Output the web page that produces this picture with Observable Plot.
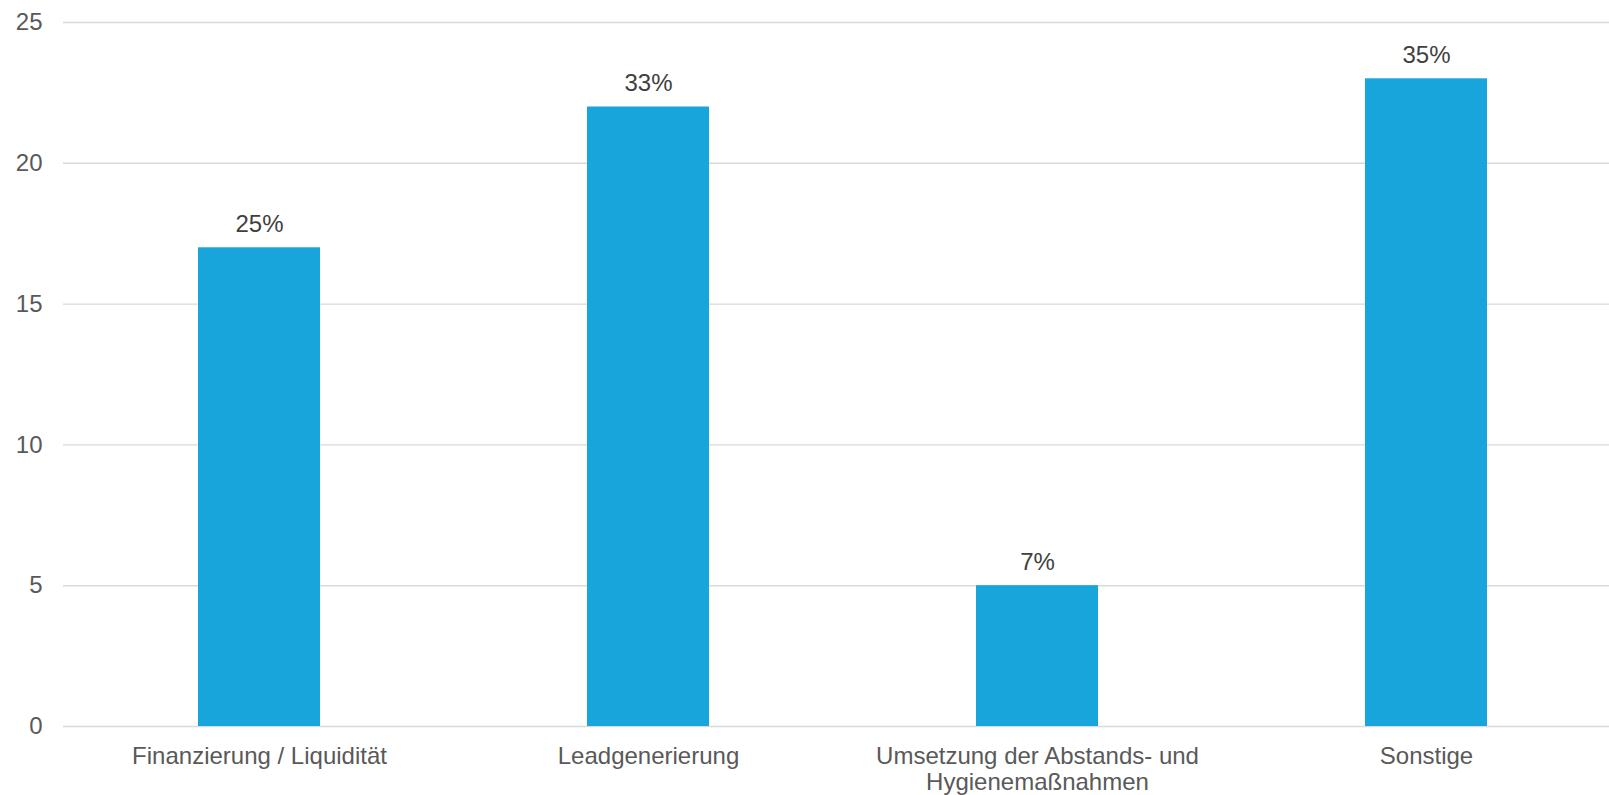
<!DOCTYPE html>
<html>
<head>
<meta charset="utf-8">
<script src="https://cdn.jsdelivr.net/npm/d3@7"></script>
<script src="https://cdn.jsdelivr.net/npm/@observablehq/plot@0.6"></script>
<style>
  html, body { margin: 0; padding: 0; background: #ffffff; }
  #chart svg { display: block; }
</style>
</head>
<body>
<div id="chart"></div>
<script>
const categories = [
  "Finanzierung / Liquidität",
  "Leadgenerierung",
  "Umsetzung der Abstands- und\nHygienemaßnahmen",
  "Sonstige"
];
const values = [17, 22, 5, 23];
const percentLabels = ["25%", "33%", "7%", "35%"];
const yTicks = [0, 5, 10, 15, 20, 25];

const data = categories.map((c, i) => ({category: c, value: values[i], label: percentLabels[i]}));

const chart = Plot.plot({
  width: 1609,
  height: 795,
  marginTop: 22,
  marginBottom: 69,
  marginLeft: 63,
  marginRight: 0,
  style: {
    fontFamily: "'Liberation Sans', Arial, Helvetica, sans-serif",
    fontSize: "24px",
    color: "#595959",
    background: "#ffffff"
  },
  x: {domain: categories, range: [63, 1622], paddingInner: 0.686, paddingOuter: 0.343, label: null},
  y: {domain: [0, 25], ticks: yTicks, label: null},
  marks: [
    Plot.ruleY(yTicks, {stroke: "#d9d9d9", strokeWidth: 1.4}),
    Plot.barY(data, {x: "category", y: "value", fill: "#17a5dc"}),
    Plot.text(data, {
      x: "category", y: "value", text: "label",
      lineAnchor: "bottom", dy: -16,
      fontSize: 24, fill: "#404040"
    }),
    Plot.axisY({
      ticks: yTicks, tickSize: 0, tickPadding: 21,
      fontSize: 24, fill: "#595959", label: null
    }),
    Plot.axisX({
      tickSize: 0, tickPadding: 20,
      fontSize: 24, fill: "#595959", lineHeight: 1.05, label: null
    })
  ]
});
document.getElementById("chart").appendChild(chart);
</script>
</body>
</html>
